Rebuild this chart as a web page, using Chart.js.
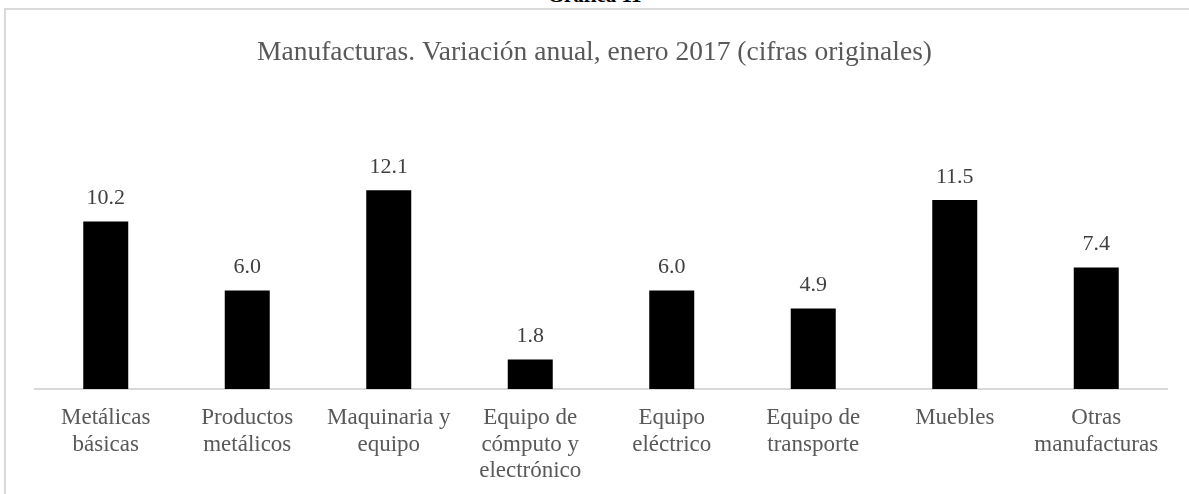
<!DOCTYPE html>
<html lang="es">
<head>
<meta charset="utf-8">
<title>Manufacturas. Variación anual, enero 2017</title>
<script src="https://cdn.jsdelivr.net/npm/chart.js@4/dist/chart.umd.min.js"></script>
<style>
  html, body { margin: 0; padding: 0; background: #fff; overflow: hidden; }
  #page { position: relative; width: 1189px; height: 494px; overflow: hidden; }
  #frame {
    position: absolute; left: 4px; top: 8px; width: 1300px; height: 600px;
    border-top: 2px solid #d9d9d9; border-left: 2px solid #d9d9d9;
  }
  #header {
    position: absolute; left: 0; width: 1189px; top: -15px; text-align: center;
    font: bold 21px/21px "Liberation Serif", serif; color: #000;
  }
  #chart { position: absolute; left: 0; top: 0; }
</style>
</head>
<body>
<div id="page">
  <div id="frame"></div>
  <div id="header">Gráfica 11</div>
  <canvas id="chart" width="1189" height="494"></canvas>
</div>
<script>
// categorías (eje x, en varias líneas)
const categories = [
  ['Metálicas', 'básicas'],
  ['Productos', 'metálicos'],
  ['Maquinaria y', 'equipo'],
  ['Equipo de', 'cómputo y', 'electrónico'],
  ['Equipo', 'eléctrico'],
  ['Equipo de', 'transporte'],
  ['Muebles'],
  ['Otras', 'manufacturas']
];
// variación anual, %
const values = [10.2, 6.0, 12.1, 1.8, 6.0, 4.9, 11.5, 7.4];

const titleText = 'Manufacturas. Variación anual, enero 2017 (cifras originales)';
const serif = '"Liberation Serif", "Times New Roman", serif';
const gray = '#595959';

// título centrado en toda la caja + etiquetas de datos encima de cada barra
const barLabels = {
  id: 'barLabels',
  afterDatasetsDraw(chart) {
    const ctx = chart.ctx;
    const meta = chart.getDatasetMeta(0);
    ctx.save();
    ctx.textAlign = 'center';
    ctx.textBaseline = 'middle';

    ctx.font = '27.5px ' + serif;
    ctx.fillStyle = gray;
    ctx.fillText(titleText, chart.width / 2, 53);

    ctx.font = '22px ' + serif;
    ctx.fillStyle = '#404040';
    meta.data.forEach((bar, i) => {
      ctx.fillText(values[i].toFixed(1), bar.x, bar.y - 23);
    });
    ctx.restore();
  }
};

new Chart(document.getElementById('chart'), {
  type: 'bar',
  data: {
    labels: categories,
    datasets: [{
      data: values,
      backgroundColor: '#000000',
      borderWidth: 0,
      categoryPercentage: 1,
      barPercentage: 0.318
    }]
  },
  options: {
    responsive: false,
    animation: false,
    layout: { padding: { left: 35, right: 22, top: 159, bottom: 10 } },
    plugins: {
      legend: { display: false },
      tooltip: { enabled: false },
      title: { display: false }
    },
    scales: {
      y: { display: false, min: 0, max: 14 },
      x: {
        grid: { display: false, drawTicks: false },
        border: { color: '#d9d9d9', width: 2 },
        ticks: {
          color: gray,
          autoSkip: false,
          maxRotation: 0,
          padding: 16,
          font: { family: serif, size: 23, lineHeight: 1.15 }
        },
        afterFit(scale) { scale.height = 95; }
      }
    }
  },
  plugins: [barLabels]
});
</script>
</body>
</html>
